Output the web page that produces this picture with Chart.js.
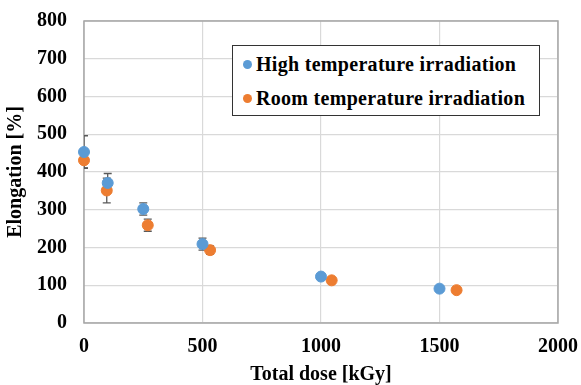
<!DOCTYPE html>
<html>
<head>
<meta charset="utf-8">
<script src="https://cdn.jsdelivr.net/npm/chart.js@4/dist/chart.umd.min.js"></script>
<style>
  html, body { margin: 0; padding: 0; background: #fff; }
  #wrap { position: relative; width: 581px; height: 385px; }
  #legend {
    position: absolute; left: 232px; top: 45px; width: 308px; height: 71px;
    border: 1.5px solid #333; background: #fff; box-sizing: border-box;
    font: bold 20px "Liberation Serif", "Times New Roman", serif; color: #000;
    padding: 1px 0 0 10px;
  }
  #legend div { height: 34px; line-height: 34px; white-space: nowrap; letter-spacing: 0.3px; }
  #legend span.dot {
    display: inline-block; width: 9px; height: 9px; border-radius: 50%;
    margin-right: 4px; vertical-align: 2px;
  }
</style>
</head>
<body>
<div id="wrap">
  <canvas id="chart" width="581" height="385"></canvas>
  <div id="legend">
    <div><span class="dot" style="background:#5B9BD5"></span>High temperature irradiation</div>
    <div><span class="dot" style="background:#ED7D31"></span>Room temperature irradiation</div>
  </div>
</div>
<script>
// doses [kGy] and elongation [%]
const highDose = [0, 100, 250, 500, 1000, 1500];
const highElong = [453, 371, 302, 209, 123, 91];
const highErr = [43, 25, 16, 16, 6, 6];

const roomDose = [0, 96, 269, 532, 1045, 1572];
const roomElong = [431, 351, 259, 193, 113, 87];
const roomErr = [20, 33, 16, 11, 8, 8];

const xTicks = [0, 500, 1000, 1500, 2000];
const yTicks = [0, 100, 200, 300, 400, 500, 600, 700, 800];

const serif = "'Liberation Serif', 'Times New Roman', serif";

function toPoints(xs, ys) {
  return xs.map((x, i) => ({ x: x, y: ys[i] }));
}

// Error bars drawn under the markers
const errorBars = {
  id: "errorBars",
  beforeDatasetsDraw(chart) {
    const { ctx, scales, chartArea } = chart;
    ctx.save();
    ctx.beginPath();
    ctx.rect(chartArea.left, chartArea.top, chartArea.right - chartArea.left, chartArea.bottom - chartArea.top);
    ctx.clip();
    ctx.strokeStyle = "#595959";
    ctx.lineWidth = 1.3;
    chart.data.datasets.forEach((ds) => {
      ds.data.forEach((p, i) => {
        const e = ds.errors[i];
        const x = scales.x.getPixelForValue(p.x);
        const yTop = scales.y.getPixelForValue(p.y + e);
        const yBot = scales.y.getPixelForValue(p.y - e);
        ctx.beginPath();
        ctx.moveTo(x, yTop);
        ctx.lineTo(x, yBot);
        ctx.moveTo(x - 4, yTop);
        ctx.lineTo(x + 4, yTop);
        ctx.moveTo(x - 4, yBot);
        ctx.lineTo(x + 4, yBot);
        ctx.stroke();
      });
    });
    ctx.restore();
  },
};

// Plot area frame in grey
const frame = {
  id: "frame",
  beforeDatasetsDraw(chart) {
    const { ctx, chartArea } = chart;
    ctx.save();
    ctx.strokeStyle = "#a6a6a6";
    ctx.lineWidth = 1.5;
    ctx.strokeRect(chartArea.left, chartArea.top, chartArea.right - chartArea.left, chartArea.bottom - chartArea.top);
    ctx.restore();
  },
};

new Chart(document.getElementById("chart"), {
  type: "scatter",
  data: {
    datasets: [
      {
        label: "High temperature irradiation",
        data: toPoints(highDose, highElong),
        errors: highErr,
        backgroundColor: "#5B9BD5",
        borderColor: "#5B9BD5",
        pointRadius: 5.5,
        clip: false,
      },
      {
        label: "Room temperature irradiation",
        data: toPoints(roomDose, roomElong),
        errors: roomErr,
        backgroundColor: "#ED7D31",
        borderColor: "#ED7D31",
        pointRadius: 5.5,
        clip: false,
      },
    ],
  },
  options: {
    responsive: false,
    animation: false,
    layout: { padding: { top: 21, right: 23, left: 0, bottom: 0 } },
    plugins: {
      legend: { display: false },
      tooltip: { enabled: false },
    },
    scales: {
      x: {
        type: "linear",
        min: 0,
        max: 2000,
        afterBuildTicks: (s) => { s.ticks = xTicks.map((v) => ({ value: v })); },
        afterFit: (s) => { s.height = 62; s.paddingLeft = 0; s.paddingRight = 0; },
        grid: { color: "#d9d9d9", lineWidth: 1.2, drawTicks: false },
        border: { display: false },
        ticks: {
          color: "#000",
          padding: 12,
          maxRotation: 0,
          callback: (v) => String(v),
          font: { family: serif, size: 20, weight: "bold" },
        },
        title: {
          display: true,
          text: "Total dose [kGy]",
          color: "#000",
          padding: { top: 4, bottom: -2 },
          font: { family: serif, size: 20, weight: "bold" },
        },
      },
      y: {
        type: "linear",
        min: 0,
        max: 800,
        afterBuildTicks: (s) => { s.ticks = yTicks.map((v) => ({ value: v })); },
        afterFit: (s) => { s.width = 84; s.paddingTop = 0; s.paddingBottom = 0; },
        grid: { color: "#d9d9d9", lineWidth: 1.2, drawTicks: false },
        border: { display: false },
        ticks: {
          color: "#000",
          padding: 17,
          callback: (v) => String(v),
          font: { family: serif, size: 20, weight: "bold" },
        },
        title: {
          display: true,
          text: "Elongation [%]",
          color: "#000",
          padding: { bottom: 0 },
          font: { family: serif, size: 20, weight: "bold" },
        },
      },
    },
  },
  plugins: [frame, errorBars],
});
</script>
</body>
</html>
